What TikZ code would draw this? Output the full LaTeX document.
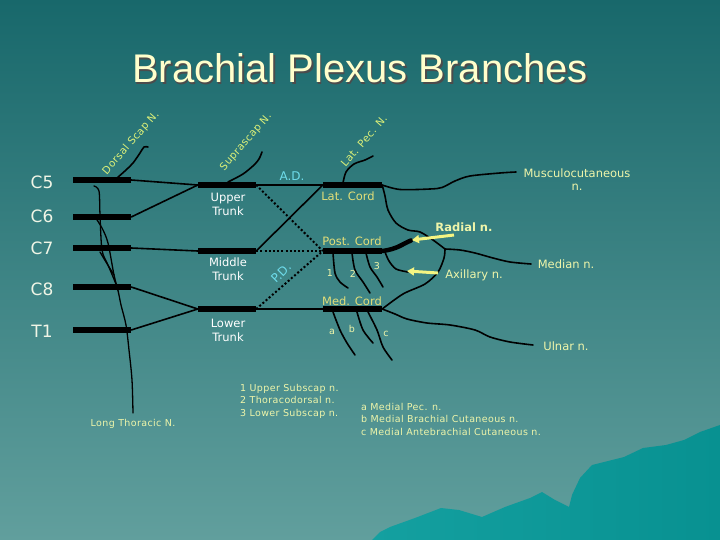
\documentclass[tikz,border=0pt]{standalone}
\usepackage{fontspec}
\setmainfont{DejaVu Sans}
\newfontfamily\titlefont{Liberation Sans}
\newfontfamily\spacedfont[LetterSpace=4]{DejaVu Sans}
\usetikzlibrary{arrows.meta}
\definecolor{bgtop}{RGB}{24,104,107}
\definecolor{bgbot}{RGB}{97,159,157}
\definecolor{mtnA}{RGB}{20,160,160}
\definecolor{mtnB}{RGB}{8,145,145}
\definecolor{cordyel}{RGB}{226,222,120}
\definecolor{paleyel}{RGB}{238,245,170}
\definecolor{rotyel}{RGB}{220,240,120}
\definecolor{cyanlab}{RGB}{110,220,235}
\definecolor{rootwhite}{RGB}{240,245,230}
\definecolor{titlecol}{RGB}{255,255,204}
\definecolor{arrowyel}{RGB}{245,245,130}
\begin{document}
\begin{tikzpicture}[x=1pt,y=-1pt,
  bar/.style={rectangle, fill=black, inner sep=0pt, minimum width=58pt, minimum height=5.5pt},
  nerve/.style={line width=1.6pt, draw=black, line cap=round, line join=round},
  dotline/.style={line width=2pt, draw=black, dash pattern=on 2pt off 2.2pt},
  rootlab/.style={text=rootwhite, font=\fontsize{17}{17}\selectfont},
  trunklab/.style={text=white, font=\fontsize{11.5}{14}\selectfont, align=center},
  cordlab/.style={text=cordyel, font=\fontsize{11.5}{13}\selectfont},
  brlab/.style={text=paleyel, font=\fontsize{11.5}{13}\selectfont, align=center},
  rotlab/.style={text=rotyel, font=\spacedfont\fontsize{10.3}{12}\selectfont, rotate=49},
  smalllab/.style={text=paleyel, font=\spacedfont\fontsize{9.5}{12.5}\selectfont},
  cyanl/.style={text=cyanlab, font=\fontsize{12}{14}\selectfont},
  ylarrow/.style={draw=arrowyel, line width=3pt, -{Triangle[length=7pt,width=8pt]}}
]
\useasboundingbox (0,0) rectangle (720,540);
\shade[top color=bgtop, bottom color=bgbot] (0,0) rectangle (720,540);
% mountain
\shade[left color=mtnA, right color=mtnB] (372,540) -- (380,532) -- (390,527) -- (415,518) -- (441,508) -- (459,510) -- (482,517) -- (505,507) -- (530,498) -- (542,492) -- (555,500) -- (569,507) -- (572,495) -- (580,478) -- (592,465) -- (624,457) -- (643,448) -- (666,445) -- (684,440) -- (700,432) -- (720,425) -- (720,540) -- cycle;

% title
\node[text=black!70, font=\titlefont\fontsize{40}{40}\selectfont, anchor=base] at (361.5,84.5) {Brachial Plexus Branches};
\node (title) [text=titlecol, font=\titlefont\fontsize{40}{40}\selectfont, anchor=base] at (360,83) {Brachial Plexus Branches};

% root labels
\node (lc5) [rootlab] at (42,182) {C5};
\node (lc6) [rootlab] at (42,216) {C6};
\node (lc7) [rootlab] at (42,248) {C7};
\node (lc8) [rootlab] at (42,289) {C8};
\node (lt1) [rootlab] at (42,331) {T1};

% long thoracic
\draw[nerve, line width=1.3pt] plot[smooth] coordinates {(94,186) (99,191) (100,215) (102,250) (108,265) (117,287) (121,305) (126,325) (129,350) (132,380) (133,413)};
\draw[nerve, line width=1.3pt] plot[smooth] coordinates {(95,217) (102,228) (108,243) (114,275) (118,290)};
\draw[nerve, line width=1.3pt] plot[smooth] coordinates {(100,252) (106,262) (114,275)};

% root bars
\node (c5) [bar] at (102,180) {};
\node (c6) [bar] at (102,217) {};
\node (c7) [bar] at (102,248) {};
\node (c8) [bar] at (102,287) {};
\node (t1) [bar] at (102,330) {};
% trunks
\node (ut) [bar] at (227,185) {};
\node (mt) [bar] at (227,251) {};
\node (lt) [bar] at (227,309) {};
% cords
\node (lc) [bar, minimum width=59pt] at (352.5,185) {};
\node (pc) [bar, minimum width=59pt] at (352.5,251) {};
\node (mc) [bar, minimum width=59pt] at (352.5,309) {};

% roots to trunks
\draw[nerve] (c5.east) -- (ut.west);
\draw[nerve] (c6.east) -- (ut.west);
\draw[nerve] (c7.east) -- (mt.west);
\draw[nerve] (c8.east) -- (lt.west);
\draw[nerve] (t1.east) -- (lt.west);
% trunks to cords
\draw[nerve] (ut.east) -- (lc.west);
\draw[nerve] (mt.east) -- (lc.west);
\draw[nerve] (lt.east) -- (mc.west);
\draw[dotline] (ut.east) -- (pc.west);
\draw[dotline] (mt.east) -- (pc.west);
\draw[dotline] (lt.east) -- (pc.west);

% trunk labels
\node (utl) [trunklab] at (228,204) {Upper\\Trunk};
\node (mtl) [trunklab] at (228,269) {Middle\\Trunk};
\node (ltl) [trunklab] at (228,330) {Lower\\Trunk};
\node (ad) [cyanl] at (292,176) {A.D.};
\node (pd) [cyanl, rotate=45] at (281,273) {P.D.};
\node (lcl) [cordlab] at (348,196) {Lat. Cord};
\node (pcl) [cordlab] at (352,241) {Post. Cord};
\node (mcl) [cordlab] at (352,301) {Med. Cord};

% dorsal scap
\draw[nerve] plot[smooth] coordinates {(117,178) (126,170) (133,163) (140,153) (144,147) (148,147)};
\node (dsl) [rotlab] at (131,143) {Dorsal Scap N.};
% suprascap
\draw[nerve] plot[smooth] coordinates {(228,182) (243,174) (254,165) (259,159) (262,152)};
\node (ssl) [rotlab] at (246,142) {Suprascap N.};
% lat pec
\draw[nerve] plot[smooth] coordinates {(343,183) (346,172) (354,164) (365,160) (373,156)};
\node (lpl) [rotlab] at (364,141) {Lat. Pec. N.};

% musculocutaneous
\draw[nerve] plot[smooth] coordinates {(lc.east) (400,189.5) (430,189) (442,187.5) (455,181) (470,176) (500,173) (516,172)};
\node (mcn) [brlab] at (577,180) {Musculocutaneous\\n.};

% lateral root of median
\draw[nerve] plot[smooth] coordinates {(lc.east) (385,196) (388,210) (396,223) (408,230) (420,232) (433,240) (445,249)};
% medial root of median
\draw[nerve] plot[smooth] coordinates {(mc.east) (403,294) (425,284) (438,272) (444,258) (445,249)};
% median
\draw[nerve] plot[smooth] coordinates {(445,249) (460,250) (475,253) (493,258) (510,262) (531,264)};
\node (medn) [brlab] at (566,264) {Median n.};
% ulnar
\draw[nerve] plot[smooth] coordinates {(mc.east) (395,314) (407,319) (427,323) (450,325) (475,330) (490,337) (510,342) (533,345)};
\node (ulnn) [brlab] at (566,346) {Ulnar n.};

% radial (thick)
\draw[line width=4.5pt, line cap=round] (pc.east) .. controls (398,249) and (402,244) .. (411,240.5);
\coordinate (radtip) at (412,240);
\node (radl) [brlab, font=\bfseries\fontsize{11.5}{13}\selectfont] at (464,227) {Radial n.};
\draw[ylarrow] (454,235) -- (radtip);
% axillary
\draw[nerve] plot[smooth] coordinates {(385,252) (389,261) (396,269) (408,272)};
\coordinate (axtip) at (407,271);
\node (axl) [brlab] at (474,275) {Axillary n.};
\draw[ylarrow] (438,273) -- (axtip);

% posterior cord branches
\draw[nerve] plot[smooth] coordinates {(333,253) (335,273) (340,282) (348,288)};
\draw[nerve] plot[smooth] coordinates {(352,253) (355,270) (363,282) (370,293)};
\draw[nerve] plot[smooth] coordinates {(366,253) (370,267) (377,277) (383,287)};
\node (b1) [smalllab] at (330,273) {1};
\node (b2) [smalllab] at (353,274) {2};
\node (b3) [smalllab] at (377,266) {3};
% medial cord branches
\draw[nerve] plot[smooth] coordinates {(333,312) (340,330) (347,343) (355,355)};
\draw[nerve] plot[smooth] coordinates {(357,312) (363,330) (373,343)};
\draw[nerve] plot[smooth] coordinates {(368,312) (377,330) (383,347) (392,360)};
\node (ba) [smalllab] at (332,332) {a};
\node (bb) [smalllab] at (352,329) {b};
\node (bc) [smalllab] at (386,334) {c};

% long thoracic label
\node (ltn) [smalllab] at (133,424) {Long Thoracic N.};

% legends
\node (leg1) [smalllab, align=left, anchor=north west, inner sep=0pt] at (240,384) {1 Upper Subscap n.\\2 Thoracodorsal n.\\3 Lower Subscap n.};
\node (leg2) [smalllab, align=left, anchor=north west, inner sep=0pt] at (361,403) {a Medial Pec. n.\\b Medial Brachial Cutaneous n.\\c Medial Antebrachial Cutaneous n.};
\end{tikzpicture}
\end{document}
